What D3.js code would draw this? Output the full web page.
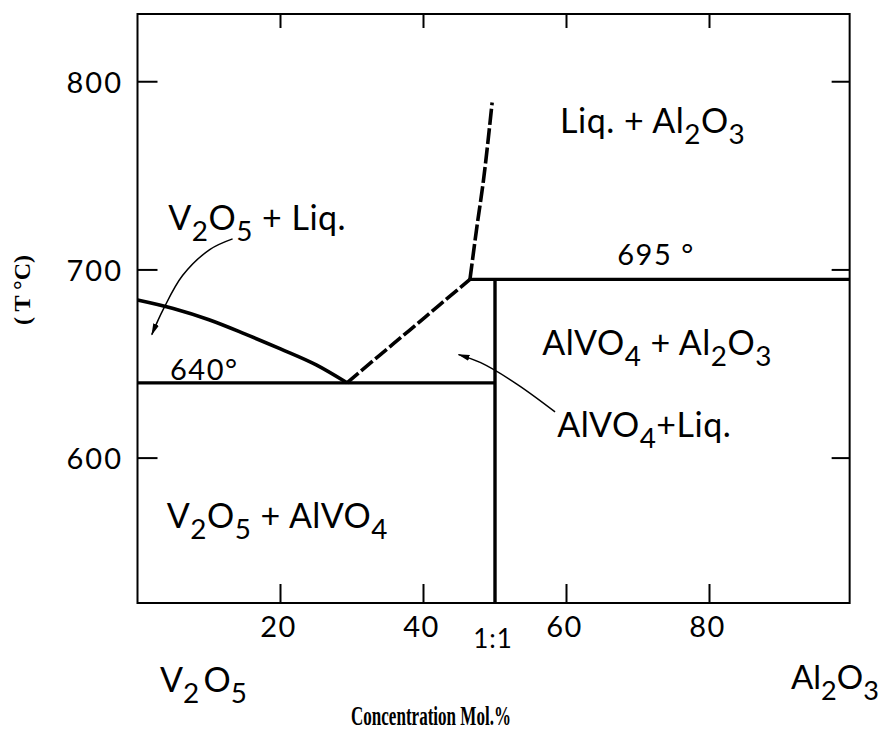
<!DOCTYPE html>
<html><head><meta charset="utf-8">
<script src="https://cdn.jsdelivr.net/npm/d3@7"></script>
<style>body{margin:0;background:#fff}svg{display:block}</style>
</head><body>
<svg id="chart" width="884" height="734"></svg>
<script>
// ---- data ----
const xTicks = [20, 40, 60, 80];
const yTicks = [600, 700, 800];
const xDomain = [0, 99.6];
const yDomain = [523, 836];
const eutecticT = 640;
const peritecticT = 695;
const peritecticX = 46.5;
const compoundX = 50;
const liquidusV2O5 = [[0,684],[5,679.5],[10,673.5],[15,666],[20,658],[25,649.5],[29.3,640]];
const liquidusAlVO4 = [[29.3,640],[33.6,653.8],[38,667.8],[42.3,681.6],[46.5,695]];
const liquidusAl2O3 = [[46.5,695],[47.4,721],[48.4,748],[49.6,789]];
const arrowV2O5Liq = [[13.3,716.5],[10.1,710.8],[6.3,697],[3.6,679],[2.0,665.6]];
const arrowAlVO4Liq = [[58.4,624.6],[53,639.5],[48,650.7],[44.9,655]];
const regionLabels = [
  {text:"Liq. + Al_2O_3", x:59.1, t:772.8},
  {text:"V_2O_5 + Liq.", x:4.3, t:721.2},
  {text:"AlVO_4 + Al_2O_3", x:56.6, t:654.8},
  {text:"AlVO_4+Liq.", x:58.7, t:611.2},
  {text:"V_2O_5 + AlVO_4", x:4.1, t:562.9}
];
const tempLabels = [
  {text:"695 °", x:67.1, t:702.6},
  {text:"640°", x:4.55, t:641.5}
];

// ---- scales ----
const svg = d3.select("#chart");
const x = d3.scaleLinear().domain([0,100]).range([137.5, 852.5]);
const y = d3.scaleLinear().domain(yDomain).range([603, 14]);
const sans = "Lato, 'DejaVu Sans', sans-serif";
const serif = "'Liberation Serif', 'Times New Roman', serif";

svg.append("defs").append("marker")
  .attr("id","ah").attr("viewBox","0 -4 12 8")
  .attr("refX",11).attr("refY",0)
  .attr("markerUnits","userSpaceOnUse")
  .attr("markerWidth",12).attr("markerHeight",8)
  .attr("orient","auto")
  .append("path").attr("d","M0,-3L12,0L0,3Z").attr("fill","#000");

// frame
const x0 = x(xDomain[0]), x1 = x(xDomain[1]), y0 = y(yDomain[0]), y1 = y(yDomain[1]);
svg.append("rect").attr("x",x0).attr("y",y1).attr("width",x1-x0).attr("height",y0-y1)
  .attr("fill","none").attr("stroke","#000").attr("stroke-width",2);

// ticks
const tk = svg.append("g").attr("stroke","#000").attr("stroke-width",2);
xTicks.forEach(v=>{
  tk.append("line").attr("x1",x(v)).attr("x2",x(v)).attr("y1",y0).attr("y2",y0-19);
  tk.append("line").attr("x1",x(v)).attr("x2",x(v)).attr("y1",y1).attr("y2",y1+14);
});
yTicks.forEach(v=>{
  tk.append("line").attr("x1",x0).attr("x2",x0+20).attr("y1",y(v)).attr("y2",y(v));
  tk.append("line").attr("x1",x1).attr("x2",x1-18).attr("y1",y(v)).attr("y2",y(v));
});

// tick labels
svg.append("g").selectAll("text").data(xTicks).join("text")
  .attr("x",d=>x(d)-2).attr("y",637).attr("text-anchor","middle")
  .attr("font-family",sans).attr("font-size",29).attr("letter-spacing",1.5).text(d=>d);
svg.append("g").selectAll("text").data(yTicks).join("text")
  .attr("x",123).attr("y",d=>y(d)+11).attr("text-anchor","end")
  .attr("font-family",sans).attr("font-size",29).attr("letter-spacing",2).text(d=>d);
svg.append("text").attr("x",x(compoundX)-2).attr("y",648).attr("text-anchor","middle")
  .attr("font-family",sans).attr("font-size",26).attr("letter-spacing",1).text("1:1");

// phase boundaries
const mkLine = c => d3.line().x(d=>x(d[0])).y(d=>y(d[1])).curve(c);
const g = svg.append("g").attr("fill","none").attr("stroke","#000");
g.append("path").datum(liquidusV2O5).attr("d",mkLine(d3.curveMonotoneX)).attr("stroke-width",3.6);
g.append("path").datum(liquidusAlVO4).attr("d",mkLine(d3.curveMonotoneX))
  .attr("stroke-width",3.6).attr("stroke-dasharray","15,3.5");
g.append("path").datum(liquidusAl2O3).attr("d",mkLine(d3.curveMonotoneX))
  .attr("stroke-width",3.6).attr("stroke-dasharray","16,3.5");
g.append("line").attr("x1",x0).attr("x2",x(compoundX)).attr("y1",y(eutecticT)).attr("y2",y(eutecticT)).attr("stroke-width",3.2);
g.append("line").attr("x1",x(peritecticX)).attr("x2",x1).attr("y1",y(peritecticT)).attr("y2",y(peritecticT)).attr("stroke-width",3.2);
g.append("line").attr("x1",x(compoundX)).attr("x2",x(compoundX)).attr("y1",y(peritecticT)).attr("y2",y0).attr("stroke-width",3.4);

// arrows
const aline = mkLine(d3.curveCatmullRom);
[arrowV2O5Liq, arrowAlVO4Liq].forEach(a=>{
  svg.append("path").datum(a).attr("d",aline).attr("fill","none").attr("stroke","#000")
    .attr("stroke-width",1.5).attr("marker-end","url(#ah)");
});

// chemical text helper: "_d" = subscript
function chem(px, py, str, size, attrs){
  const t = svg.append("text").attr("x",px).attr("y",py)
    .attr("font-family",sans).attr("font-size",size);
  if(attrs) Object.entries(attrs).forEach(([k,v])=>t.attr(k,v));
  const shift = Math.round(size*0.32);
  const parts = str.split(/(_.)/).filter(s=>s.length);
  let sub=false;
  parts.forEach(p=>{
    if(p[0]==="_"){
      t.append("tspan").attr("font-size",size*0.82).attr("dy",sub?0:shift).text(p[1]);
      sub=true;
    } else {
      t.append("tspan").attr("dy",sub?-shift:0).text(p);
      sub=false;
    }
  });
  return t;
}
regionLabels.forEach(l=>chem(x(l.x), y(l.t), l.text, 34, {"letter-spacing":0.5}));
tempLabels.forEach(l=>svg.append("text").attr("x",x(l.x)).attr("y",y(l.t))
  .attr("font-family",sans).attr("font-size",29).attr("letter-spacing",1.5).text(l.text));

// component labels
chem(160, 692, "V_2\u2009O_5", 34);
chem(791, 689, "Al_2O_3", 33);

// axis titles
svg.append("text").attr("x",431).attr("y",725).attr("text-anchor","middle")
  .attr("font-family",serif).attr("font-weight","bold").attr("font-size",27)
  .attr("textLength",160).attr("lengthAdjust","spacingAndGlyphs").text("Concentration Mol.%");
svg.append("text").attr("transform","translate(30,290) rotate(-90)").attr("text-anchor","middle")
  .attr("font-family",serif).attr("font-weight","bold").attr("font-size",24).text("( T °C)");
</script>
</body></html>
